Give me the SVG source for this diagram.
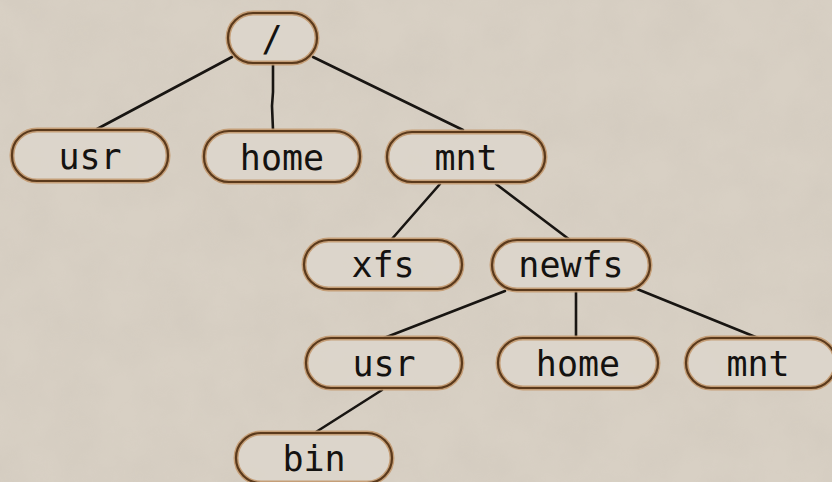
<svg xmlns="http://www.w3.org/2000/svg" width="832" height="482" viewBox="0 0 832 482">
<defs>
<filter id="tex" x="0" y="0" width="100%" height="100%">
<feTurbulence type="fractalNoise" baseFrequency="0.02" numOctaves="4" seed="7" result="n"/>
<feColorMatrix in="n" type="matrix" values="0 0 0 0 0.55  0 0 0 0 0.5  0 0 0 0 0.44  0 0 0 0.9 -0.25" result="c"/>
<feComposite in="c" in2="SourceGraphic" operator="in"/>
</filter>
<style>
.halo{fill:#ddd6cc;stroke:#c49a70;stroke-width:5;opacity:0.9}
.box{fill:none;stroke:#5b3a1c;stroke-width:2.2}
.lbl{font-family:"DejaVu Sans Mono",monospace;font-size:35px;fill:#141210;text-anchor:middle}
.edge{stroke:#181512;stroke-width:2.6;fill:none;stroke-linecap:round}
</style>
</defs>
<rect width="832" height="482" fill="#d8d0c4"/>
<rect width="832" height="482" fill="#d8d0c4" filter="url(#tex)" opacity="0.35"/>
<g id="connectors">
<line class="edge" x1="232" y1="57" x2="97" y2="129"/>
<path class="edge" d="M273 63 L273 92 L272 106 L273 130"/>
<line class="edge" x1="313" y1="57" x2="463" y2="130"/>
<line class="edge" x1="440" y1="184" x2="391" y2="240"/>
<line class="edge" x1="496" y1="184" x2="570" y2="240"/>
<line class="edge" x1="505" y1="291" x2="384" y2="338"/>
<line class="edge" x1="576" y1="291" x2="576" y2="338"/>
<line class="edge" x1="637" y1="289" x2="758" y2="338"/>
<line class="edge" x1="382" y1="390" x2="316" y2="432"/>
</g>
<g id="root"><rect class="halo" x="228" y="13" width="89" height="50" rx="25"/><rect class="box" x="228" y="13" width="89" height="50" rx="25"/><text class="lbl" x="272" y="51">/</text></g>
<g id="usr"><rect class="halo" x="12" y="130" width="156" height="51" rx="25"/><rect class="box" x="12" y="130" width="156" height="51" rx="25"/><text class="lbl" x="90" y="169">usr</text></g>
<g id="home"><rect class="halo" x="204" y="131" width="156" height="51" rx="25"/><rect class="box" x="204" y="131" width="156" height="51" rx="25"/><text class="lbl" x="282" y="170">home</text></g>
<g id="mnt"><rect class="halo" x="387" y="132" width="158" height="50" rx="25"/><rect class="box" x="387" y="132" width="158" height="50" rx="25"/><text class="lbl" x="466" y="170">mnt</text></g>
<g id="xfs"><rect class="halo" x="304" y="240" width="158" height="49" rx="24.5"/><rect class="box" x="304" y="240" width="158" height="49" rx="24.5"/><text class="lbl" x="383" y="277">xfs</text></g>
<g id="newfs"><rect class="halo" x="492" y="240" width="158" height="50" rx="25"/><rect class="box" x="492" y="240" width="158" height="50" rx="25"/><text class="lbl" x="571" y="277">newfs</text></g>
<g id="usr2"><rect class="halo" x="306" y="338" width="156" height="50" rx="25"/><rect class="box" x="306" y="338" width="156" height="50" rx="25"/><text class="lbl" x="384" y="376">usr</text></g>
<g id="home2"><rect class="halo" x="498" y="338" width="160" height="50" rx="25"/><rect class="box" x="498" y="338" width="160" height="50" rx="25"/><text class="lbl" x="578" y="376">home</text></g>
<g id="mnt2"><rect class="halo" x="686" y="338" width="150" height="50" rx="25"/><rect class="box" x="686" y="338" width="150" height="50" rx="25"/><text class="lbl" x="758" y="376">mnt</text></g>
<g id="bin"><rect class="halo" x="236" y="433" width="156" height="50" rx="25"/><rect class="box" x="236" y="433" width="156" height="50" rx="25"/><text class="lbl" x="314" y="471">bin</text></g>
</svg>
